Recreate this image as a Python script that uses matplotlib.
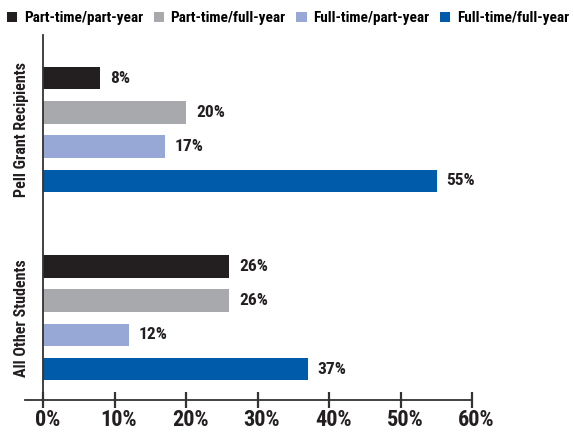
import matplotlib
matplotlib.use("Agg")
import matplotlib.pyplot as plt
import matplotlib.transforms as mtransforms
from matplotlib import font_manager

# condensed bold face if one is installed, else Arial-like
names = {f.name for f in font_manager.fontManager.ttflist}
family = 'Liberation Sans'
for cand in ['Roboto Condensed', 'Liberation Sans Narrow', 'Open Sans Condensed']:
    if cand in names:
        family = cand
        break
plt.rcParams['font.family'] = [family, 'DejaVu Sans']
plt.rcParams['font.weight'] = 'bold'

groups = ["Pell Grant Recipients", "All Other Students"]
series = ["Part-time/part-year", "Part-time/full-year",
          "Full-time/part-year", "Full-time/full-year"]
colors = ["#231f20", "#a7a9ac", "#97a8d6", "#005baa"]
# percent of students in each enrollment pattern, per group
values = [
    [8, 20, 17, 55],
    [26, 26, 12, 37],
]
xticks = [0, 10, 20, 30, 40, 50, 60]

fig = plt.figure(figsize=(5.74, 4.33), dpi=100)
ax = fig.add_axes([0.0378, 0.0762, 0.9622, 0.843])

group_start = [0, 5.5]
bar_h = 0.66
handles = []
for i, name in enumerate(series):
    ys = [group_start[g] + i for g in range(len(groups))]
    vals = [values[g][i] for g in range(len(groups))]
    b = ax.barh(ys, vals, height=bar_h, color=colors[i], label=name)
    handles.append(b)
    for y, v in zip(ys, vals):
        ax.annotate(f"{v}%", (v, y), xytext=(7, 0), textcoords="offset points",
                    ha="left", va="center", fontsize=12.5, fontweight="bold",
                    color="#231f20")

ax.set_xlim(-3, 74.2)
ax.set_ylim(9.4, -1.26)

ax.spines['right'].set_visible(False)
ax.spines['top'].set_visible(False)
ax.spines['left'].set_position(('data', 0))
ax.spines['bottom'].set_bounds(-2.5, 60)
for s in ('left', 'bottom'):
    ax.spines[s].set_color("#333333")
    ax.spines[s].set_linewidth(1.3)

ax.set_xticks(xticks)
ax.set_xticklabels([f"{t}%" for t in xticks], fontsize=16, fontweight="bold",
                   color="#231f20")
ax.tick_params(axis='x', direction='inout', length=11, width=1.6,
               color="#333333", pad=1)
# nudge the percent labels a little right of their ticks
shift = mtransforms.ScaledTranslation(3 / 72, 0, fig.dpi_scale_trans)
for lbl in ax.get_xticklabels():
    lbl.set_transform(lbl.get_transform() + shift)

ax.set_yticks([group_start[0] + 1.5, group_start[1] + 1.5])
ax.set_yticklabels(groups, rotation=90, va="center", fontsize=11.5,
                   fontweight="bold", color="#231f20")
ax.tick_params(axis='y', length=0, pad=10)

fig.legend(handles=handles, loc="upper left", bbox_to_anchor=(0.0, 0.99),
           ncol=4, frameon=False, fontsize=11, handlelength=0.66,
           handleheight=0.66, handletextpad=0.45, columnspacing=0.7,
           borderaxespad=0.0, borderpad=0.45)

fig.savefig("out.png", dpi=100)
